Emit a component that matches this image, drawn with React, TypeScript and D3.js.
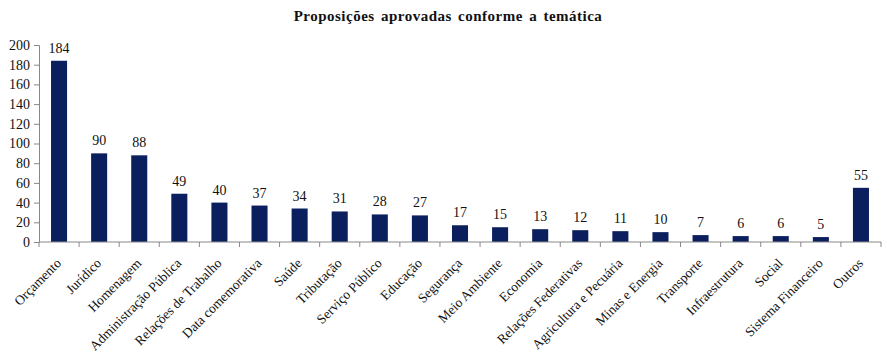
import { useEffect, useRef } from 'react'
import * as d3 from 'd3'

const categories = [
  'Orçamento', 'Jurídico', 'Homenagem', 'Administração Pública', 'Relações de Trabalho',
  'Data comemorativa', 'Saúde', 'Tributação', 'Serviço Público', 'Educação', 'Segurança',
  'Meio Ambiente', 'Economia', 'Relações Federativas', 'Agricultura e Pecuária',
  'Minas e Energia', 'Transporte', 'Infraestrutura', 'Social', 'Sistema Financeiro', 'Outros'
]
const values = [184, 90, 88, 49, 40, 37, 34, 31, 28, 27, 17, 15, 13, 12, 11, 10, 7, 6, 6, 5, 55]
const yTicks = [0, 20, 40, 60, 80, 100, 120, 140, 160, 180, 200]
const title = 'Proposições aprovadas conforme a temática'

const App = () => {
  const width = 887
  const height = 359
  const margin = { top: 45, right: 6, bottom: 117, left: 39 }
  const font = 'Liberation Serif'
  const barColor = '#0b1f5e'

  const svgRef = useRef<SVGSVGElement>(null)

  useEffect(() => {
    const svg = d3.select(svgRef.current)
    svg.selectAll('*').remove()

    const innerW = width - margin.left - margin.right
    const innerH = height - margin.top - margin.bottom

    const xScale = d3.scaleBand()
      .domain(categories)
      .range([0, innerW])
      .paddingInner(0.6)
      .paddingOuter(0.3)

    const yScale = d3.scaleLinear()
      .domain([0, 200])
      .range([innerH, 0])

    svg.append('rect')
      .attr('width', width)
      .attr('height', height)
      .attr('fill', 'white')

    svg.append('text')
      .attr('x', 448)
      .attr('y', 21)
      .attr('text-anchor', 'middle')
      .attr('font-family', font)
      .attr('font-size', 15)
      .attr('font-weight', 'bold')
      .attr('letter-spacing', 0.5)
      .attr('word-spacing', 2)
      .attr('fill', '#111')
      .text(title)

    const g = svg.append('g')
      .attr('transform', `translate(${margin.left},${margin.top})`)

    g.selectAll('rect.bar')
      .data(values)
      .enter()
      .append('rect')
      .attr('class', 'bar')
      .attr('x', (d, i) => xScale(categories[i]))
      .attr('y', d => yScale(d))
      .attr('width', xScale.bandwidth())
      .attr('height', d => innerH - yScale(d))
      .attr('fill', barColor)

    // value labels above each bar
    g.selectAll('text.val')
      .data(values)
      .enter()
      .append('text')
      .attr('class', 'val')
      .attr('x', (d, i) => xScale(categories[i]) + xScale.bandwidth() / 2)
      .attr('y', d => yScale(d) - 8)
      .attr('text-anchor', 'middle')
      .attr('font-family', font)
      .attr('font-size', 14)
      .attr('fill', '#111')
      .text(d => d)

    // y axis
    const yAxis = g.append('g')
      .call(d3.axisLeft(yScale).tickValues(yTicks).tickSize(5).tickPadding(4))
    yAxis.attr('font-family', font).attr('font-size', 14)
    yAxis.select('.domain').attr('stroke', '#888')
    yAxis.selectAll('.tick line').attr('stroke', '#888')
    yAxis.selectAll('.tick text').attr('fill', '#111')

    // x axis with ticks at band boundaries
    const bounds = d3.range(categories.length + 1).map(i => i * innerW / categories.length)
    g.append('line')
      .attr('x1', 0)
      .attr('x2', innerW)
      .attr('y1', innerH)
      .attr('y2', innerH)
      .attr('stroke', '#888')
    g.selectAll('line.xt')
      .data(bounds)
      .enter()
      .append('line')
      .attr('class', 'xt')
      .attr('x1', d => d)
      .attr('x2', d => d)
      .attr('y1', innerH)
      .attr('y2', innerH + 5)
      .attr('stroke', '#888')

    g.selectAll('text.xl')
      .data(categories)
      .enter()
      .append('text')
      .attr('class', 'xl')
      .attr('transform', d => `translate(${xScale(d) + xScale.bandwidth() / 2 + 3},${innerH + 22}) rotate(-45)`)
      .attr('text-anchor', 'end')
      .attr('font-family', font)
      .attr('font-size', 13.5)
      .attr('fill', '#111')
      .text(d => d)
  }, [])

  return (
    <svg ref={svgRef} width={width} height={height}
      style={{ position: 'absolute', left: 0, top: 0, display: 'block' }}></svg>
  )
}

export default App
